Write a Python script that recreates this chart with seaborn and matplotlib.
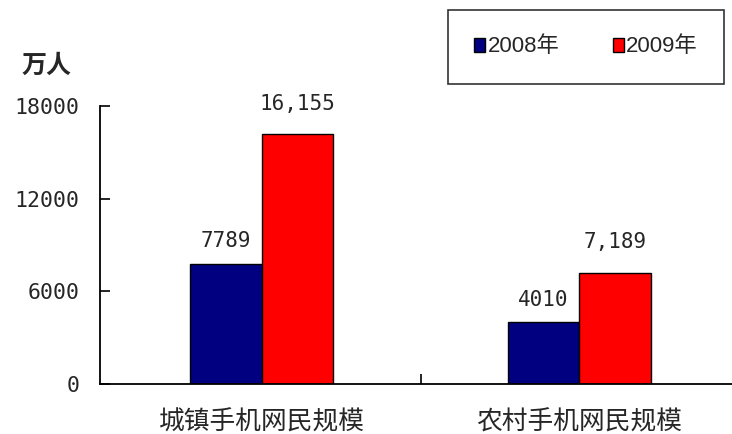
import pandas as pd
import seaborn as sns
from matplotlib import pyplot as plt
from matplotlib.patches import Patch

categories = ['城镇手机网民规模', '农村手机网民规模']
years = ['2008年', '2009年']
users_2008 = [7789, 4010]
users_2009 = [16155, 7189]
yticks = [0, 6000, 12000, 18000]
colors = ['#000080', '#FF0000']

sns.set_theme(style='white')
plt.rcParams['font.family'] = ['Noto Sans CJK SC', 'DejaVu Sans']

df = pd.DataFrame({
    'category': categories * 2,
    'year': [years[0]] * 2 + [years[1]] * 2,
    'users': users_2008 + users_2009,
})

fig = plt.figure(figsize=(7.32, 4.34), dpi=100)
ax = fig.add_axes([100 / 732, 1 - 384 / 434, 638 / 732, 278 / 434])

sns.barplot(data=df, x='category', y='users', hue='year', palette=colors,
            width=0.45, gap=0, edgecolor='black', linewidth=1.0,
            saturation=1, legend=False, ax=ax)

ax.set_xlim(-0.51, 1.5)
ax.set_ylim(0, 18000)
ax.set_yticks(yticks)
ax.set_yticklabels([str(v) for v in yticks], family='DejaVu Sans Mono', fontsize=15.5)
ax.set_xlabel('')
ax.set_ylabel('')
ax.tick_params(axis='y', which='major', direction='in', length=7, width=1.2,
               color='black', pad=15, left=True)
ax.tick_params(axis='x', which='major', length=0, pad=18, labelsize=18.5)
ax.set_xticks([0.5], minor=True)
ax.tick_params(axis='x', which='minor', direction='in', length=7, width=1.2,
               color='black', bottom=True)

for side in ['top', 'right']:
    ax.spines[side].set_visible(False)
for side in ['left', 'bottom']:
    ax.spines[side].set_color('black')
    ax.spines[side].set_linewidth(1.3)

ax.bar_label(ax.containers[0], labels=[str(v) for v in users_2008], padding=9,
             family='DejaVu Sans Mono', fontsize=15)
ax.bar_label(ax.containers[1], labels=[f'{v:,}' for v in users_2009], padding=15,
             family='DejaVu Sans Mono', fontsize=15)

fig.text(21 / 732, 1 - 66 / 434, '万人', fontsize=18, fontweight='bold', va='center', ha='left')

handles = [Patch(facecolor=c, edgecolor='black', linewidth=1) for c in colors]
leg = fig.legend(handles, years, loc='center', bbox_to_anchor=(586 / 732, 1 - 47 / 434),
                 ncol=2, frameon=True, fancybox=False, edgecolor='black',
                 handlelength=0.5, handleheight=0.6, handletextpad=0.1,
                 columnspacing=2.4, borderpad=1.2, borderaxespad=0,
                 prop={'family': ['Liberation Sans', 'Noto Sans CJK SC'], 'size': 16})
leg.get_frame().set_linewidth(1.2)

fig.savefig('out.png', dpi=100)
